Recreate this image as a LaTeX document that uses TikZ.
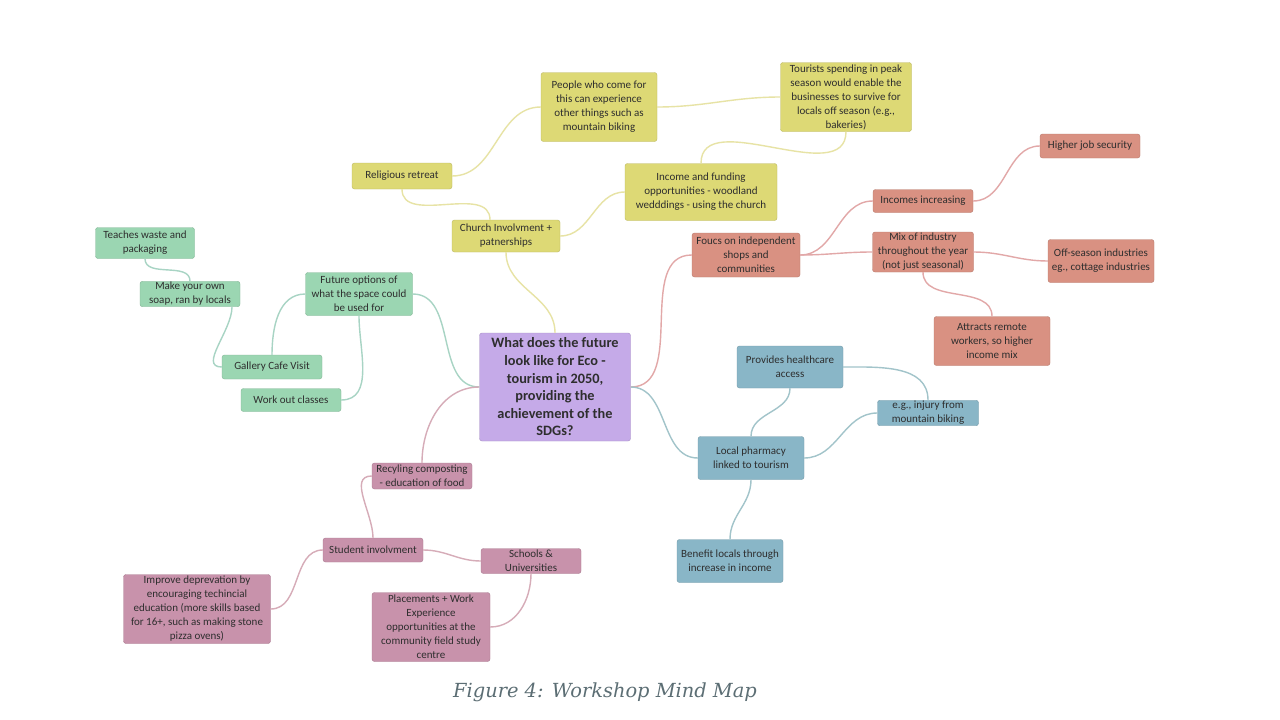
\documentclass[tikz,border=0pt]{standalone}
\usepackage{fontspec}
\setmainfont{Carlito}
\newfontfamily\capfont{DejaVu Serif}

\definecolor{yfill}{RGB}{221,217,117}
\definecolor{yline}{RGB}{231,227,165}
\definecolor{gfill}{RGB}{155,214,178}
\definecolor{gline}{RGB}{168,212,196}
\definecolor{rfill}{RGB}{217,145,130}
\definecolor{rline}{RGB}{226,168,168}
\definecolor{bfill}{RGB}{137,182,199}
\definecolor{bline}{RGB}{162,196,202}
\definecolor{pfill}{RGB}{200,146,171}
\definecolor{pline}{RGB}{214,172,184}
\definecolor{cfill}{RGB}{197,170,232}
\definecolor{captxt}{RGB}{92,110,116}

\tikzset{
  mapbox/.style={rounded corners=2.5pt, align=center, inner sep=1pt, text=black!82,
    font=\fontsize{11}{14}\selectfont},
  ybox/.style={mapbox, fill=yfill, draw=yfill!85!black},
  gbox/.style={mapbox, fill=gfill, draw=gfill!85!black},
  rbox/.style={mapbox, fill=rfill, draw=rfill!85!black},
  bbox/.style={mapbox, fill=bfill, draw=bfill!85!black},
  pbox/.style={mapbox, fill=pfill, draw=pfill!85!black},
  link/.style={line width=1.4pt}
}

\begin{document}
\begin{tikzpicture}[x=1pt, y=-1pt]
        \useasboundingbox[fill=white] (0,0) rectangle (1280,720);

        % centre
        \node[mapbox, fill=cfill, draw=cfill!85!black, minimum width=151, minimum height=108,
              font=\fontsize{14.3}{17.6}\selectfont\bfseries] (ctr) at (555,387)
              {What does the future\\look like for Eco -\\tourism in 2050,\\providing the\\achievement of the\\SDGs?};

        % yellow branch
        \node[ybox, minimum width=108, minimum height=32] (chu) at (506,236) {Church Involvment +\\patnerships};
        \node[ybox, minimum width=100, minimum height=26] (rel) at (402,176) {Religious retreat};
        \node[ybox, minimum width=116, minimum height=69] (ppl) at (599,107)
              {People who come for\\this can experience\\other things such as\\mountain biking};
        \node[ybox, minimum width=131, minimum height=69] (tour) at (846,97)
              {Tourists spending in peak\\season would enable the\\businesses to survive for\\locals off season (e.g.,\\bakeries)};
        \node[ybox, minimum width=152, minimum height=57] (inc) at (701,192)
              {Income and funding\\opportunities - woodland\\wedddings - using the church};

        % green branch
        \node[gbox, minimum width=107, minimum height=43] (fut) at (359,294)
              {Future options of\\what the space could\\be used for};
        \node[gbox, minimum width=100, minimum height=24] (gal) at (272,367) {Gallery Cafe Visit};
        \node[gbox, minimum width=100, minimum height=23] (work) at (291,400) {Work out classes};
        \node[gbox, minimum width=100, minimum height=25] (soap) at (190,294) {Make your own\\soap, ran by locals};
        \node[gbox, minimum width=99, minimum height=31] (teach) at (145,243) {Teaches waste and\\packaging};

        % red branch
        \node[rbox, minimum width=108, minimum height=44] (shops) at (746,255)
              {Foucs on independent\\shops and\\communities};
        \node[rbox, minimum width=100, minimum height=23] (incr) at (923,201) {Incomes increasing};
        \node[rbox, minimum width=100, minimum height=24] (job) at (1090,146) {Higher job security};
        \node[rbox, minimum width=101, minimum height=40] (mix) at (923,252)
              {Mix of industry\\throughout the year\\(not just seasonal)};
        \node[rbox, minimum width=106, minimum height=43] (off) at (1101,261)
              {Off-season industries\\eg., cottage industries};
        \node[rbox, minimum width=116, minimum height=49] (remote) at (992,341)
              {Attracts remote\\workers, so higher\\income mix};

        % blue branch
        \node[bbox, minimum width=106, minimum height=43] (pharm) at (751,458) {Local pharmacy\\linked to tourism};
        \node[bbox, minimum width=106, minimum height=42] (care) at (790,367) {Provides healthcare\\access};
        \node[bbox, minimum width=101, minimum height=25] (injury) at (928,413) {e.g., injury from\\mountain biking};
        \node[bbox, minimum width=106, minimum height=43] (benefit) at (730,561) {Benefit locals through\\increase in income};

        % pink branch
        \node[pbox, minimum width=100, minimum height=26] (recy) at (422,476) {Recyling composting\\- education of food};
        \node[pbox, minimum width=100, minimum height=24] (stud) at (373,550) {Student involvment};
        \node[pbox, minimum width=100, minimum height=25] (school) at (531,561) {Schools \&\\Universities};
        \node[pbox, minimum width=147, minimum height=69] (depr) at (197,609)
              {Improve deprevation by\\encouraging techincial\\education (more skills based\\for 16+, such as making stone\\pizza ovens)};
        \node[pbox, minimum width=118, minimum height=69] (place) at (431,627)
              {Placements + Work\\Experience\\opportunities at the\\community field study\\centre};

        % links
        \draw[link, yline] (chu.south) to[out=-90, in=90] (ctr.north);
        \draw[link, yline] ([xshift=-16pt]chu.north) to[out=90, in=-90] (rel.south);
        \draw[link, yline] (rel.east) to[out=0, in=180] (ppl.west);
        \draw[link, yline] (ppl.east) to[out=0, in=180] (tour.west);
        \draw[link, yline] (chu.east) to[out=0, in=180] (inc.west);
        \draw[link, yline] (inc.north) to[out=90, in=-90] (tour.south);

        \draw[link, gline] (ctr.west) to[out=180, in=0] (fut.east);
        \draw[link, gline] (fut.west) to[out=180, in=90] (gal.north);
        \draw[link, gline] (fut.south) to[out=-90, in=0] (work.east);
        \draw[link, gline] ([xshift=42pt]soap.south) to[out=-90, in=180] (gal.west);
        \draw[link, gline] (teach.south) to[out=-90, in=90] (soap.north);

        \draw[link, rline] (ctr.east) to[out=0, in=180] (shops.west);
        \draw[link, rline] (shops.east) to[out=0, in=180] (incr.west);
        \draw[link, rline] (shops.east) to[out=0, in=180] (mix.west);
        \draw[link, rline] (incr.east) to[out=0, in=180] (job.west);
        \draw[link, rline] (mix.east) to[out=0, in=180] (off.west);
        \draw[link, rline] (mix.south) to[out=-90, in=90] (remote.north);

        \draw[link, bline] (ctr.east) to[out=0, in=180] (pharm.west);
        \draw[link, bline] (pharm.north) to[out=90, in=-90] (care.south);
        \draw[link, bline] (care.east) to[out=0, in=90] (injury.north);
        \draw[link, bline] (pharm.east) to[out=0, in=180] (injury.west);
        \draw[link, bline] (pharm.south) to[out=-90, in=90] (benefit.north);

        \draw[link, pline] (ctr.west) to[out=180, in=90] (recy.north);
        \draw[link, pline] (recy.west) to[out=180, in=90] (stud.north);
        \draw[link, pline] (stud.west) to[out=180, in=0] (depr.east);
        \draw[link, pline] (stud.east) to[out=0, in=180] (school.west);
        \draw[link, pline] (school.south) to[out=-90, in=0] (place.east);

        % caption
        \node[text=captxt, font=\capfont\itshape\fontsize{19.4}{22}\selectfont] (cap) at (605,692)
              {Figure 4: Workshop Mind Map};
\end{tikzpicture}
\end{document}
